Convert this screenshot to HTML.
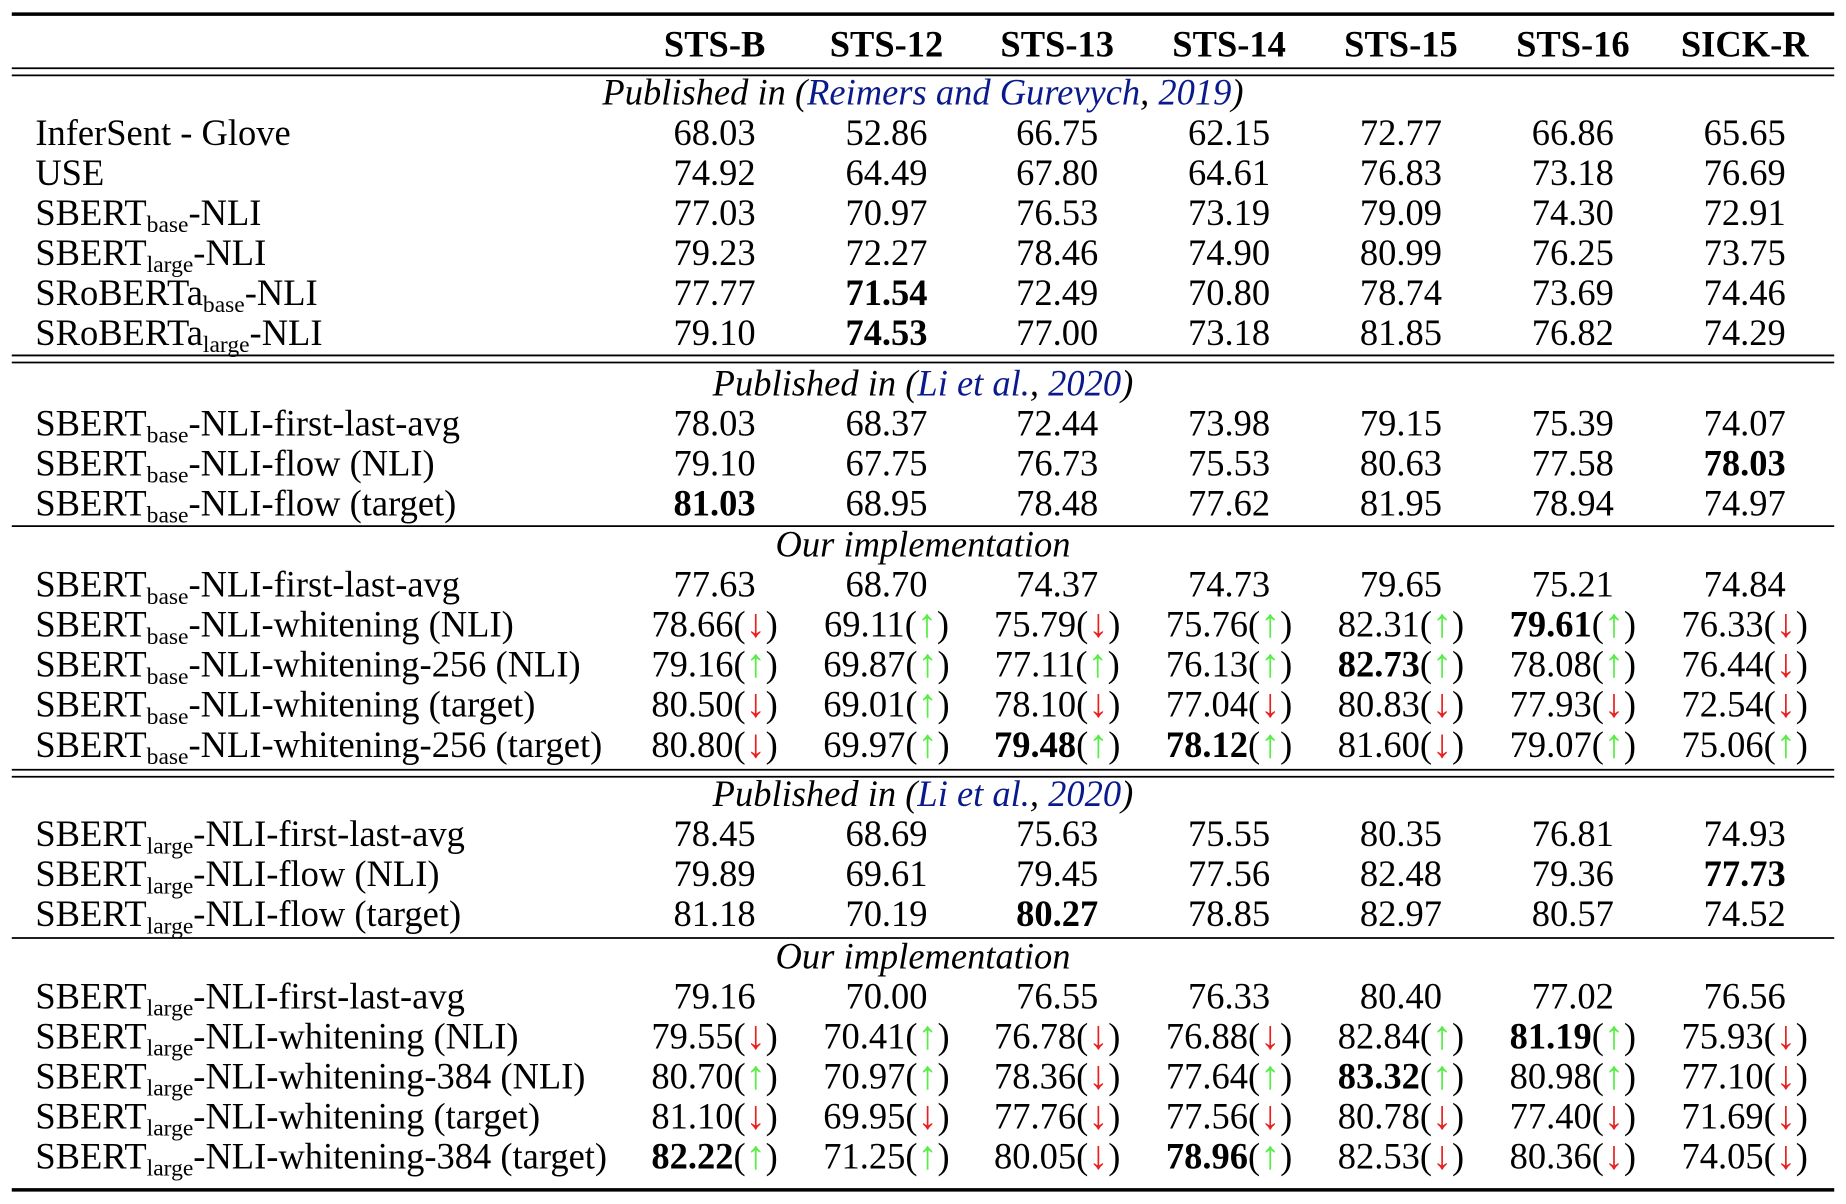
<!DOCTYPE html>
<html><head><meta charset="utf-8"><style>
html,body{margin:0;padding:0;background:#fff;}
svg{display:block;}
text{font-family:"Liberation Serif",serif;font-size:31px;fill:#000;}
.b{font-weight:bold;}
.i{font-style:italic;}
.l{fill:#0a1a8c;}
.u{fill:#55ee44;font-size:34px;}
.d{fill:#e82020;font-size:34px;}
</style></head><body>
<svg width="1846" height="1204" viewBox="0 0 1568 1023" preserveAspectRatio="none" xmlns="http://www.w3.org/2000/svg">
<g stroke="#000">
<line x1="10" x2="1558" y1="12" y2="12" stroke-width="3"/>
<line x1="10" x2="1558" y1="58" y2="58" stroke-width="1.5"/>
<line x1="10" x2="1558" y1="64" y2="64" stroke-width="1.5"/>
<line x1="10" x2="1558" y1="302" y2="302" stroke-width="1.5"/>
<line x1="10" x2="1558" y1="308" y2="308" stroke-width="1.5"/>
<line x1="10" x2="1558" y1="447" y2="447" stroke-width="1.5"/>
<line x1="10" x2="1558" y1="654" y2="654" stroke-width="1.5"/>
<line x1="10" x2="1558" y1="660" y2="660" stroke-width="1.5"/>
<line x1="10" x2="1558" y1="797" y2="797" stroke-width="1.5"/>
<line x1="10" x2="1558" y1="1011" y2="1011" stroke-width="3"/>
</g>
<g text-anchor="middle" class="b">
<text x="607" y="48" class="b">STS-B</text><text x="753" y="48" class="b">STS-12</text><text x="898" y="48" class="b">STS-13</text><text x="1044" y="48" class="b">STS-14</text><text x="1190" y="48" class="b">STS-15</text><text x="1336" y="48" class="b">STS-16</text><text x="1482" y="48" class="b">SICK-R</text>
</g>
<g text-anchor="middle">
<text x="784" y="89" class="i">Published in (<tspan class="l">Reimers and Gurevych</tspan>, <tspan class="l">2019</tspan>)</text>
<text x="784" y="336" class="i">Published in (<tspan class="l">Li et al.</tspan>, <tspan class="l">2020</tspan>)</text>
<text x="784" y="473" class="i">Our implementation</text>
<text x="784" y="685" class="i">Published in (<tspan class="l">Li et al.</tspan>, <tspan class="l">2020</tspan>)</text>
<text x="784" y="823" class="i">Our implementation</text>
</g>
<g>
<text x="30" y="123">InferSent - Glove</text>
<text x="30" y="157">USE</text>
<text x="30" y="191">SBERT<tspan font-size="20" dy="6">base</tspan><tspan dy="-6">-NLI</tspan></text>
<text x="30" y="225">SBERT<tspan font-size="20" dy="6">large</tspan><tspan dy="-6">-NLI</tspan></text>
<text x="30" y="259">SRoBERTa<tspan font-size="20" dy="6">base</tspan><tspan dy="-6">-NLI</tspan></text>
<text x="30" y="293">SRoBERTa<tspan font-size="20" dy="6">large</tspan><tspan dy="-6">-NLI</tspan></text>
<text x="30" y="370">SBERT<tspan font-size="20" dy="6">base</tspan><tspan dy="-6">-NLI-first-last-avg</tspan></text>
<text x="30" y="404">SBERT<tspan font-size="20" dy="6">base</tspan><tspan dy="-6">-NLI-flow (NLI)</tspan></text>
<text x="30" y="438">SBERT<tspan font-size="20" dy="6">base</tspan><tspan dy="-6">-NLI-flow (target)</tspan></text>
<text x="30" y="507">SBERT<tspan font-size="20" dy="6">base</tspan><tspan dy="-6">-NLI-first-last-avg</tspan></text>
<text x="30" y="541">SBERT<tspan font-size="20" dy="6">base</tspan><tspan dy="-6">-NLI-whitening (NLI)</tspan></text>
<text x="30" y="575">SBERT<tspan font-size="20" dy="6">base</tspan><tspan dy="-6">-NLI-whitening-256 (NLI)</tspan></text>
<text x="30" y="609">SBERT<tspan font-size="20" dy="6">base</tspan><tspan dy="-6">-NLI-whitening (target)</tspan></text>
<text x="30" y="643">SBERT<tspan font-size="20" dy="6">base</tspan><tspan dy="-6">-NLI-whitening-256 (target)</tspan></text>
<text x="30" y="719">SBERT<tspan font-size="20" dy="6">large</tspan><tspan dy="-6">-NLI-first-last-avg</tspan></text>
<text x="30" y="753">SBERT<tspan font-size="20" dy="6">large</tspan><tspan dy="-6">-NLI-flow (NLI)</tspan></text>
<text x="30" y="787">SBERT<tspan font-size="20" dy="6">large</tspan><tspan dy="-6">-NLI-flow (target)</tspan></text>
<text x="30" y="857">SBERT<tspan font-size="20" dy="6">large</tspan><tspan dy="-6">-NLI-first-last-avg</tspan></text>
<text x="30" y="891">SBERT<tspan font-size="20" dy="6">large</tspan><tspan dy="-6">-NLI-whitening (NLI)</tspan></text>
<text x="30" y="925">SBERT<tspan font-size="20" dy="6">large</tspan><tspan dy="-6">-NLI-whitening-384 (NLI)</tspan></text>
<text x="30" y="959">SBERT<tspan font-size="20" dy="6">large</tspan><tspan dy="-6">-NLI-whitening (target)</tspan></text>
<text x="30" y="993">SBERT<tspan font-size="20" dy="6">large</tspan><tspan dy="-6">-NLI-whitening-384 (target)</tspan></text>
</g>
<g text-anchor="middle">
<text y="123"><tspan x="607">68.03</tspan><tspan x="753">52.86</tspan><tspan x="898">66.75</tspan><tspan x="1044">62.15</tspan><tspan x="1190">72.77</tspan><tspan x="1336">66.86</tspan><tspan x="1482">65.65</tspan></text>
<text y="157"><tspan x="607">74.92</tspan><tspan x="753">64.49</tspan><tspan x="898">67.80</tspan><tspan x="1044">64.61</tspan><tspan x="1190">76.83</tspan><tspan x="1336">73.18</tspan><tspan x="1482">76.69</tspan></text>
<text y="191"><tspan x="607">77.03</tspan><tspan x="753">70.97</tspan><tspan x="898">76.53</tspan><tspan x="1044">73.19</tspan><tspan x="1190">79.09</tspan><tspan x="1336">74.30</tspan><tspan x="1482">72.91</tspan></text>
<text y="225"><tspan x="607">79.23</tspan><tspan x="753">72.27</tspan><tspan x="898">78.46</tspan><tspan x="1044">74.90</tspan><tspan x="1190">80.99</tspan><tspan x="1336">76.25</tspan><tspan x="1482">73.75</tspan></text>
<text y="259"><tspan x="607">77.77</tspan><tspan x="753" class="b">71.54</tspan><tspan x="898">72.49</tspan><tspan x="1044">70.80</tspan><tspan x="1190">78.74</tspan><tspan x="1336">73.69</tspan><tspan x="1482">74.46</tspan></text>
<text y="293"><tspan x="607">79.10</tspan><tspan x="753" class="b">74.53</tspan><tspan x="898">77.00</tspan><tspan x="1044">73.18</tspan><tspan x="1190">81.85</tspan><tspan x="1336">76.82</tspan><tspan x="1482">74.29</tspan></text>
<text y="370"><tspan x="607">78.03</tspan><tspan x="753">68.37</tspan><tspan x="898">72.44</tspan><tspan x="1044">73.98</tspan><tspan x="1190">79.15</tspan><tspan x="1336">75.39</tspan><tspan x="1482">74.07</tspan></text>
<text y="404"><tspan x="607">79.10</tspan><tspan x="753">67.75</tspan><tspan x="898">76.73</tspan><tspan x="1044">75.53</tspan><tspan x="1190">80.63</tspan><tspan x="1336">77.58</tspan><tspan x="1482" class="b">78.03</tspan></text>
<text y="438"><tspan x="607" class="b">81.03</tspan><tspan x="753">68.95</tspan><tspan x="898">78.48</tspan><tspan x="1044">77.62</tspan><tspan x="1190">81.95</tspan><tspan x="1336">78.94</tspan><tspan x="1482">74.97</tspan></text>
<text y="507"><tspan x="607">77.63</tspan><tspan x="753">68.70</tspan><tspan x="898">74.37</tspan><tspan x="1044">74.73</tspan><tspan x="1190">79.65</tspan><tspan x="1336">75.21</tspan><tspan x="1482">74.84</tspan></text>
<text y="719"><tspan x="607">78.45</tspan><tspan x="753">68.69</tspan><tspan x="898">75.63</tspan><tspan x="1044">75.55</tspan><tspan x="1190">80.35</tspan><tspan x="1336">76.81</tspan><tspan x="1482">74.93</tspan></text>
<text y="753"><tspan x="607">79.89</tspan><tspan x="753">69.61</tspan><tspan x="898">79.45</tspan><tspan x="1044">77.56</tspan><tspan x="1190">82.48</tspan><tspan x="1336">79.36</tspan><tspan x="1482" class="b">77.73</tspan></text>
<text y="787"><tspan x="607">81.18</tspan><tspan x="753">70.19</tspan><tspan x="898" class="b">80.27</tspan><tspan x="1044">78.85</tspan><tspan x="1190">82.97</tspan><tspan x="1336">80.57</tspan><tspan x="1482">74.52</tspan></text>
<text y="857"><tspan x="607">79.16</tspan><tspan x="753">70.00</tspan><tspan x="898">76.55</tspan><tspan x="1044">76.33</tspan><tspan x="1190">80.40</tspan><tspan x="1336">77.02</tspan><tspan x="1482">76.56</tspan></text>

<text x="607" y="541">78.66(<tspan class="d">↓</tspan>)</text><text x="753" y="541">69.11(<tspan class="u">↑</tspan>)</text><text x="898" y="541">75.79(<tspan class="d">↓</tspan>)</text><text x="1044" y="541">75.76(<tspan class="u">↑</tspan>)</text><text x="1190" y="541">82.31(<tspan class="u">↑</tspan>)</text><text x="1336" y="541"><tspan class="b">79.61</tspan>(<tspan class="u">↑</tspan>)</text><text x="1482" y="541">76.33(<tspan class="d">↓</tspan>)</text>
<text x="607" y="575">79.16(<tspan class="u">↑</tspan>)</text><text x="753" y="575">69.87(<tspan class="u">↑</tspan>)</text><text x="898" y="575">77.11(<tspan class="u">↑</tspan>)</text><text x="1044" y="575">76.13(<tspan class="u">↑</tspan>)</text><text x="1190" y="575"><tspan class="b">82.73</tspan>(<tspan class="u">↑</tspan>)</text><text x="1336" y="575">78.08(<tspan class="u">↑</tspan>)</text><text x="1482" y="575">76.44(<tspan class="d">↓</tspan>)</text>
<text x="607" y="609">80.50(<tspan class="d">↓</tspan>)</text><text x="753" y="609">69.01(<tspan class="u">↑</tspan>)</text><text x="898" y="609">78.10(<tspan class="d">↓</tspan>)</text><text x="1044" y="609">77.04(<tspan class="d">↓</tspan>)</text><text x="1190" y="609">80.83(<tspan class="d">↓</tspan>)</text><text x="1336" y="609">77.93(<tspan class="d">↓</tspan>)</text><text x="1482" y="609">72.54(<tspan class="d">↓</tspan>)</text>
<text x="607" y="643">80.80(<tspan class="d">↓</tspan>)</text><text x="753" y="643">69.97(<tspan class="u">↑</tspan>)</text><text x="898" y="643"><tspan class="b">79.48</tspan>(<tspan class="u">↑</tspan>)</text><text x="1044" y="643"><tspan class="b">78.12</tspan>(<tspan class="u">↑</tspan>)</text><text x="1190" y="643">81.60(<tspan class="d">↓</tspan>)</text><text x="1336" y="643">79.07(<tspan class="u">↑</tspan>)</text><text x="1482" y="643">75.06(<tspan class="u">↑</tspan>)</text>
<text x="607" y="891">79.55(<tspan class="d">↓</tspan>)</text><text x="753" y="891">70.41(<tspan class="u">↑</tspan>)</text><text x="898" y="891">76.78(<tspan class="d">↓</tspan>)</text><text x="1044" y="891">76.88(<tspan class="d">↓</tspan>)</text><text x="1190" y="891">82.84(<tspan class="u">↑</tspan>)</text><text x="1336" y="891"><tspan class="b">81.19</tspan>(<tspan class="u">↑</tspan>)</text><text x="1482" y="891">75.93(<tspan class="d">↓</tspan>)</text>
<text x="607" y="925">80.70(<tspan class="u">↑</tspan>)</text><text x="753" y="925">70.97(<tspan class="u">↑</tspan>)</text><text x="898" y="925">78.36(<tspan class="d">↓</tspan>)</text><text x="1044" y="925">77.64(<tspan class="u">↑</tspan>)</text><text x="1190" y="925"><tspan class="b">83.32</tspan>(<tspan class="u">↑</tspan>)</text><text x="1336" y="925">80.98(<tspan class="u">↑</tspan>)</text><text x="1482" y="925">77.10(<tspan class="d">↓</tspan>)</text>
<text x="607" y="959">81.10(<tspan class="d">↓</tspan>)</text><text x="753" y="959">69.95(<tspan class="d">↓</tspan>)</text><text x="898" y="959">77.76(<tspan class="d">↓</tspan>)</text><text x="1044" y="959">77.56(<tspan class="d">↓</tspan>)</text><text x="1190" y="959">80.78(<tspan class="d">↓</tspan>)</text><text x="1336" y="959">77.40(<tspan class="d">↓</tspan>)</text><text x="1482" y="959">71.69(<tspan class="d">↓</tspan>)</text>
<text x="607" y="993"><tspan class="b">82.22</tspan>(<tspan class="u">↑</tspan>)</text><text x="753" y="993">71.25(<tspan class="u">↑</tspan>)</text><text x="898" y="993">80.05(<tspan class="d">↓</tspan>)</text><text x="1044" y="993"><tspan class="b">78.96</tspan>(<tspan class="u">↑</tspan>)</text><text x="1190" y="993">82.53(<tspan class="d">↓</tspan>)</text><text x="1336" y="993">80.36(<tspan class="d">↓</tspan>)</text><text x="1482" y="993">74.05(<tspan class="d">↓</tspan>)</text>
</g>
</svg>
</body></html>
